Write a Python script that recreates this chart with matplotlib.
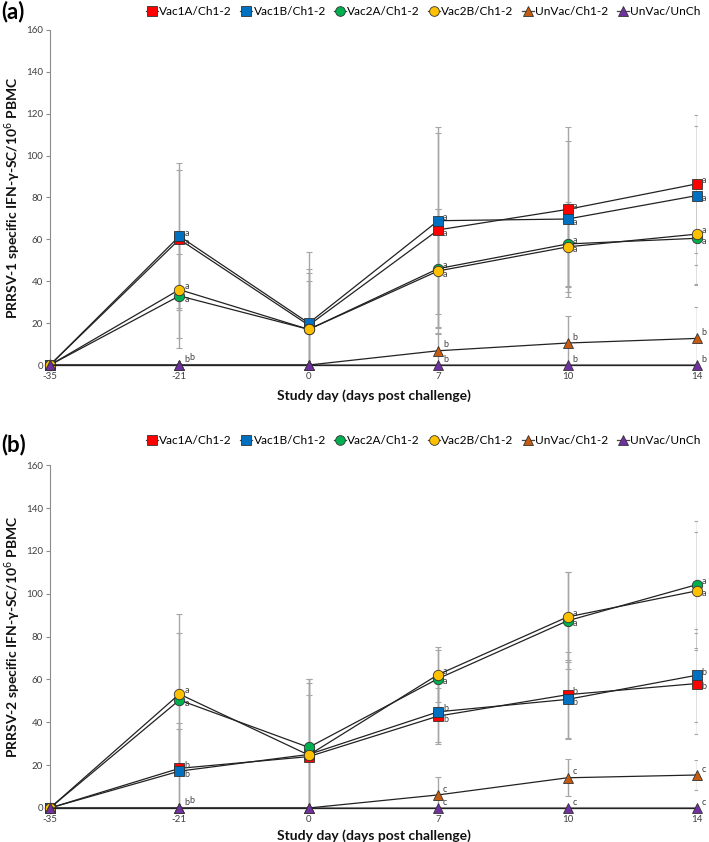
import numpy as np
import matplotlib
matplotlib.use("Agg")
import matplotlib.pyplot as plt
from matplotlib.lines import Line2D

plt.rcParams['font.family'] = ['Lato', 'DejaVu Sans']

days = ['-35', '-21', '0', '7', '10', '14']
series = ['Vac1A/Ch1-2', 'Vac1B/Ch1-2', 'Vac2A/Ch1-2', 'Vac2B/Ch1-2', 'UnVac/Ch1-2', 'UnVac/UnCh']

# Panel (a) PRRSV-1
a_vac1a = [0, 60, 19, 64.5, 74.3, 86.5]
a_vac1b = [0, 61.5, 20, 68.9, 69.7, 80.9]
a_vac2a = [0, 33, 17, 46.0, 57.8, 60.5]
a_vac2b = [0, 36, 17, 44.9, 56.4, 62.5]
a_unvch = [0, 0, 0, 6.8, 10.5, 12.7]
a_unvun = [0, 0, 0, 0, 0, 0]
a_err_vac1a = [0, 33, 27, 46.5, 39.5, 33]
a_err_vac1b = [0, 35, 34, 44.7, 37.3, 33]
a_err_vac2a = [0, 20, 27, 28.5, 20, 22]
a_err_vac2b = [0, 28, 23, 29.5, 19, 24.5]
a_err_unvch = [0, 0, 0, 8, 13, 15]
a_err_unvun = [0, 0, 0, 0, 0, 0]
a_letters = [['', 'a', '', 'a', 'a', 'a'],
             ['', 'a', '', 'a', 'a', 'a'],
             ['', 'a', '', 'a', 'a', 'a'],
             ['', 'a', '', 'a', 'a', 'a'],
             ['', 'b', '', 'b', 'b', 'b'],
             ['', 'b', '', 'b', 'b', 'b']]

# Panel (b) PRRSV-2
b_vac1a = [0, 18.5, 24, 42.9, 52.9, 58.1]
b_vac1b = [0, 17.2, 25, 44.9, 50.7, 62.0]
b_vac2a = [0, 50.4, 28.3, 60.4, 87.4, 104.3]
b_vac2b = [0, 53.2, 24.7, 62.3, 89.2, 101.4]
b_unvch = [0, 0, 0, 6.1, 14.1, 15.4]
b_unvun = [0, 0, 0, 0, 0, 0]
b_err_vac1a = [0, 21, 36, 13, 20, 23.7]
b_err_vac1b = [0, 19.6, 35, 14, 18.6, 21.7]
b_err_vac2a = [0, 31.4, 30, 13.3, 22.7, 29.7]
b_err_vac2b = [0, 37.6, 28, 12.7, 21, 27.6]
b_err_unvch = [0, 0, 0, 8.5, 8.6, 7]
b_err_unvun = [0, 0, 0, 0, 0, 0]
b_letters = [['', 'b', '', 'b', 'b', 'b'],
             ['', 'b', '', 'b', 'b', 'b'],
             ['', 'a', '', 'a', 'a', 'a'],
             ['', 'a', '', 'a', 'a', 'a'],
             ['', 'b', '', 'c', 'c', 'c'],
             ['', 'b', '', 'c', 'c', 'c']]

colors = ['#FF0000', '#0070C0', '#00B050', '#FFC000', '#C55A11', '#7030A0']
markers = ['s', 's', 'o', 'o', '^', '^']

fig = plt.figure(figsize=(7.09, 8.42), dpi=100)
ax_a = fig.add_axes([0.0705, 0.5665, 0.9125, 0.398])
ax_b = fig.add_axes([0.0705, 0.0404, 0.9125, 0.407])

panels = [
    (ax_a, [a_vac1a, a_vac1b, a_vac2a, a_vac2b, a_unvch, a_unvun],
     [a_err_vac1a, a_err_vac1b, a_err_vac2a, a_err_vac2b, a_err_unvch, a_err_unvun],
     a_letters, 'PRRSV-1 specific IFN-γ-SC/10$^{6}$ PBMC', -0.09),
    (ax_b, [b_vac1a, b_vac1b, b_vac2a, b_vac2b, b_unvch, b_unvun],
     [b_err_vac1a, b_err_vac1b, b_err_vac2a, b_err_vac2b, b_err_unvch, b_err_unvun],
     b_letters, 'PRRSV-2 specific IFN-γ-SC/10$^{6}$ PBMC', -0.081),
]

LFS = 6.5
LCOL = '#404040'
x = np.arange(len(days))
for ax, vals, errs, letters, ylab, xlab_y in panels:
    for i in range(len(series)):
        v = np.array(vals[i], dtype=float)
        e = np.array(errs[i], dtype=float)
        mask = e > 0
        if mask.any():
            ax.errorbar(x[mask], v[mask], yerr=e[mask], fmt='none', ecolor='#A6A6A6',
                        elinewidth=1.0, capsize=2, capthick=0.8, zorder=1)
    for i in range(len(series)):
        ax.plot(x, vals[i], color='#222222', lw=0.9, marker=markers[i], ms=7.5,
                mfc=colors[i], mec='#333333', mew=0.6, zorder=3 + i * 0.1, clip_on=False)
    # letters
    for d in range(len(days)):
        for pair in [(0, 1), (2, 3), (4, 5)]:
            i, j = pair
            li, lj = letters[i][d], letters[j][d]
            vi, vj = vals[i][d], vals[j][d]
            if li == '' and lj == '':
                continue
            if abs(vi - vj) < 0.01:
                ax.annotate(li, (x[d], vi), xytext=(3.5, 1), textcoords='offset points',
                            fontsize=LFS, color=LCOL, va='bottom', ha='left')
                ax.annotate(lj, (x[d], vj), xytext=(7.5, 2), textcoords='offset points',
                            fontsize=LFS, color=LCOL, va='bottom', ha='left')
            else:
                hi, lo = (i, j) if vi > vj else (j, i)
                if pair == (4, 5):
                    for k in (hi, lo):
                        ax.annotate(letters[k][d], (x[d], vals[k][d]), xytext=(3.5, 1),
                                    textcoords='offset points', fontsize=LFS, color=LCOL,
                                    va='bottom', ha='left')
                else:
                    ax.annotate(letters[hi][d], (x[d], vals[hi][d]), xytext=(3.5, -1),
                                textcoords='offset points', fontsize=LFS, color=LCOL,
                                va='bottom', ha='left')
                    ax.annotate(letters[lo][d], (x[d], vals[lo][d]), xytext=(3.5, 1),
                                textcoords='offset points', fontsize=LFS, color=LCOL,
                                va='top', ha='left')

    ax.set_xlim(0, 5.0)
    ax.set_ylim(0, 160)
    ax.set_yticks(np.arange(0, 161, 20))
    ax.set_xticks(x)
    ax.set_xticklabels(days)
    for s in ['top', 'right']:
        ax.spines[s].set_visible(False)
    ax.spines['left'].set_color('#8C8C8C')
    ax.spines['left'].set_linewidth(0.8)
    ax.spines['bottom'].set_color('#8C8C8C')
    ax.spines['bottom'].set_linewidth(1.5)
    ax.tick_params(axis='y', direction='out', length=3, width=0.8, color='#8C8C8C',
                   labelsize=7, labelcolor='#404040', pad=2)
    ax.tick_params(axis='x', length=0, labelsize=7, labelcolor='#404040', pad=5)
    ax.set_ylabel(ylab, fontsize=10, fontweight='bold', color='#111111', va='center')
    ax.yaxis.set_label_coords(-0.058, 0.5)
    ax.set_xlabel('Study day (days post challenge)', fontsize=10, fontweight='bold',
                  color='#111111', va='center')
    ax.xaxis.set_label_coords(0.5, xlab_y)

handles = [Line2D([0], [0], color='#444444', lw=0.9, marker=markers[i], ms=7,
                  mfc=colors[i], mec='#333333', mew=0.6) for i in range(len(series))]
for yl in [0.986, 0.477]:
    fig.legend(handles, series, loc='center', bbox_to_anchor=(0.597, yl), ncol=6,
               frameon=False, fontsize=8.6, handlelength=1.0, handletextpad=0.1,
               columnspacing=0.7, borderpad=0)

fig.text(0.002, 0.986, '(a)', fontsize=16, fontweight='bold', va='center', ha='left')
fig.text(0.002, 0.472, '(b)', fontsize=16, fontweight='bold', va='center', ha='left')

fig.savefig('out.png', dpi=100)
